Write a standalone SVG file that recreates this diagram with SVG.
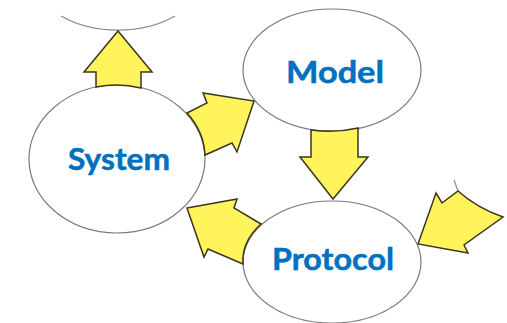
<svg xmlns="http://www.w3.org/2000/svg" width="507" height="323" viewBox="0 0 507 323">
<style>
.node{fill:#fff;stroke:#7a7a7a;stroke-width:1.2}
.arc{fill:none;stroke:#8a8a8a;stroke-width:1.2}
.arrow{fill:#fff45c;stroke:#3d3522;stroke-width:1.5;stroke-linejoin:miter}
.lbl{font-family:Lato,"Open Sans","Liberation Sans",sans-serif;font-weight:bold;font-size:31px;fill:#0070c0;stroke:#0070c0;stroke-width:0.5;text-anchor:middle}
</style>
<rect width="507" height="323" fill="#fff"/>
<g id="top-node"><path class="arc" d="M61,16 A89,61 0 0,0 175,16"/></g>
<g id="right-node"><path class="arc" d="M454,180 L458,191"/></g>
<g id="system"><ellipse class="node" cx="117" cy="159" rx="88" ry="74"/><text class="lbl" x="119" y="170" textLength="102" lengthAdjust="spacingAndGlyphs">System</text></g>
<g id="model"><ellipse class="node" cx="332" cy="70" rx="89" ry="61"/><text class="lbl" x="335" y="83" textLength="98" lengthAdjust="spacingAndGlyphs">Model</text></g>
<g id="protocol"><ellipse class="node" cx="332" cy="262" rx="89" ry="61"/><text class="lbl" x="333" y="270" textLength="122" lengthAdjust="spacingAndGlyphs">Protocol</text></g>
<g id="connectors">
<path class="arrow" d="M96,87 L96,72 L84,72 L118,31 L152,72 L141,72 L141,88 A88,74 0 0,0 96,87 Z"/>
<path class="arrow" d="M187,113 L207,103 L203,93 L254,101 L237,152 L232,143 L205,155 A88,74 0 0,0 187,113 Z"/>
<path class="arrow" d="M311,130 L311,157 L300,157 L333,199 L368,157 L358,157 L358,128 A89,61 0 0,1 311,130 Z"/>
<path class="arrow" d="M187,208 L237,199 L234,208 L261,224 A89,61 0 0,0 243,264 L208,249 L204,257 Z"/>
<path class="arrow" d="M418,244 L436,193 L442,203 L458,191 Q477,208 503,217 L464,245 L468,253 Z"/>
</g>
</svg>
